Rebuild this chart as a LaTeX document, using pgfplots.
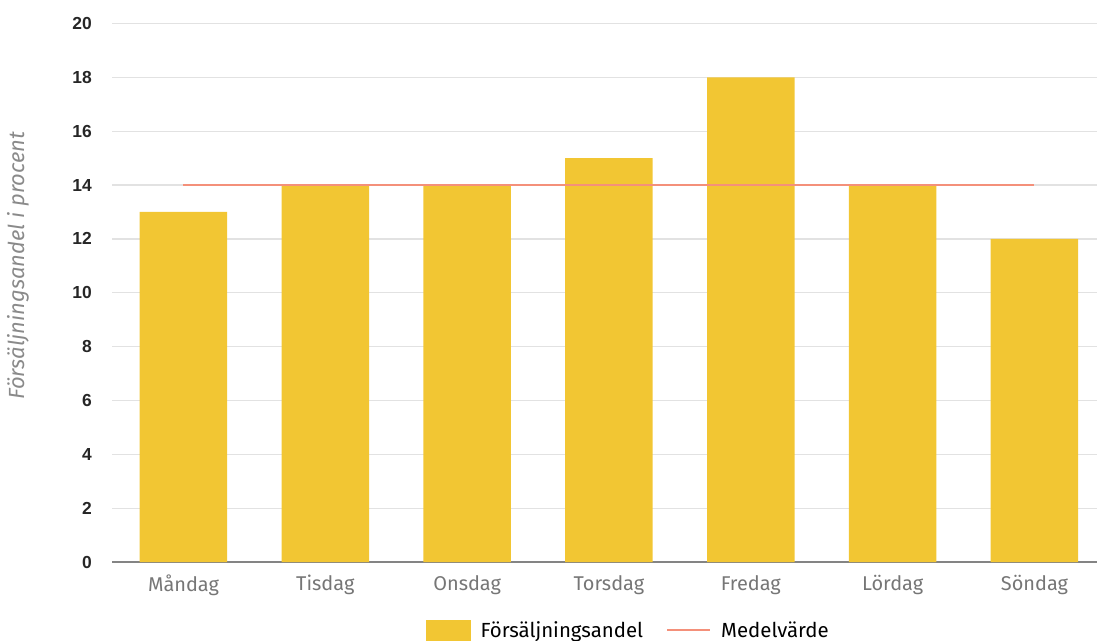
\documentclass[border=0pt]{standalone}
\usepackage{pgfplots}
\pgfplotsset{compat=1.18}
\usepackage{fontspec}
\setmainfont{Fira Sans}
\newfontfamily\numfont{Liberation Sans}

\definecolor{barcol}{HTML}{F2C633}
\definecolor{meancol}{HTML}{F4907A}
\definecolor{gridcol}{HTML}{E2E2E2}
\definecolor{labcol}{HTML}{767676}

\begin{document}
\begin{tikzpicture}
\useasboundingbox (0,0) rectangle (1097bp,641bp);
\begin{axis}[
  at={(112bp,79bp)}, anchor=south west,
  scale only axis,
  width=985bp, height=562bp,
  xmin=-0.504, xmax=6.441,
  ymin=0, ymax=20.873,
  axis x line=bottom,
  axis y line=left,
  x axis line style={draw=labcol!90, line width=1.2bp, -},
  y axis line style={draw=none},
  xtick={0,...,6},
  xticklabels={Måndag,Tisdag,Onsdag,Torsdag,Fredag,Lördag,Söndag},
  ytick={0,2,...,20},
  major tick length=0pt,
  ymajorgrids,
  grid style={gridcol, line width=1.2bp},
  yticklabel style={font=\numfont\bfseries\fontsize{17.5}{17.5}\selectfont, text=black!85, inner sep=0pt, xshift=-20bp},
  xticklabel style={font=\fontsize{20}{20}\selectfont, text=labcol, inner sep=0pt, yshift=-13bp},
  /pgf/number format/assume math mode=true,
  ylabel={\itshape Försäljningsandel i procent},
  ylabel style={font=\fontsize{22}{22}\selectfont, text=labcol!85, at={(axis description cs:-0.0955,0.527)}, anchor=center, rotate=0},
  legend columns=2,
  legend style={draw=none, at={(axis description cs:0.523,-0.121)}, anchor=center,
    font=\fontsize{20.5}{20.5}\selectfont, inner sep=0pt,
    nodes={inner sep=0pt},
    /tikz/every odd column/.append style={column sep=10bp},
    /tikz/every even column/.append style={column sep=23bp}},
  clip=false,
]
\addplot[ybar, bar width=87.5bp, fill=barcol, draw=none,
  legend image code/.code={\fill[barcol] (0bp,-10.5bp) rectangle (45bp,10.5bp);}]
  coordinates {(0,13) (1,14) (2,14) (3,15) (4,18) (5,14) (6,12)};
\addlegendentry{Försäljningsandel}
\addplot[meancol, line width=2bp,
  legend image code/.code={\draw[meancol, line width=2bp] (0bp,0bp) -- (43bp,0bp);}]
  coordinates {(0,14) (6,14)};
\addlegendentry{Medelvärde}
\end{axis}
\end{tikzpicture}
\end{document}
